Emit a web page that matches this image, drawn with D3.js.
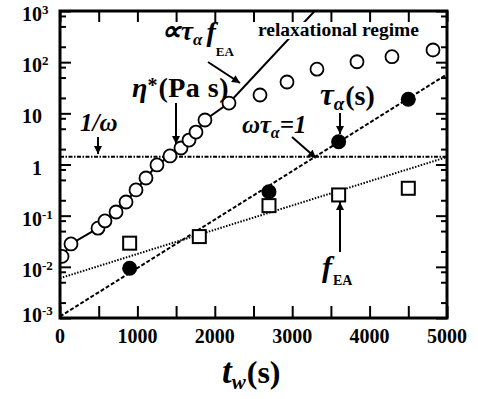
<!DOCTYPE html>
<html>
<head>
<meta charset="utf-8">
<script src="https://cdn.jsdelivr.net/npm/d3@7"></script>
<style>
  body { margin: 0; background: #fff; }
  svg { display: block; }
  text { font-family: "Liberation Serif", "Times New Roman", serif; fill: #000; font-weight: bold; }
</style>
</head>
<body>
<svg id="chart" width="478" height="399"></svg>
<script>
// eta* (Pa s), open circles
let etaT = [26, 142, 491, 581, 724, 853, 982, 1111, 1253, 1421, 1563, 1667, 1757, 1873, 2183, 2584, 2933, 3320, 3837, 4289, 4819];
let etaV = [0.016, 0.028, 0.057, 0.079, 0.118, 0.185, 0.318, 0.545, 0.98, 1.47, 2.1, 3.0, 4.3, 7.4, 15.9, 22.8, 41, 73, 102, 128, 173];
// how many eta points the solid line joins, then its straight extension
let etaLineCount = 15;
let etaExtension = [[2183, 15.9], [3290, 1000]];

// tau_alpha (s), filled circles
let tauT = [900, 2700, 3600, 4500];
let tauV = [0.0094, 0.294, 2.79, 18.8];
let tauFit = [[0, 0.00107], [5000, 58]];

// f_EA, open squares
let feaT = [900, 1800, 2700, 3600, 4500];
let feaV = [0.029, 0.039, 0.157, 0.254, 0.343];
let feaFit = [[0, 0.006], [5000, 1.4]];

// 1/omega
let invOmega = 1.42;

let xTicks = [0, 500, 1000, 1500, 2000, 2500, 3000, 3500, 4000, 4500, 5000];
let xLabels = [0, 1000, 2000, 3000, 4000, 5000];
let yExponents = [-3, -2, -1, 0, 1, 2, 3];
let yMinorMult = [2, 5, 8];

let svg = d3.select('#chart');
let mL = 60, mR = 447, mT = 11, mB = 318;

let x = d3.scaleLinear().domain([0, 5000]).range([mL, mR]);
let y = d3.scaleLog().domain([1e-3, 1e3]).range([mB, mT]);

let defs = svg.append('defs');
defs.append('clipPath').attr('id', 'plotClip')
  .append('rect').attr('x', mL).attr('y', mT)
  .attr('width', mR - mL).attr('height', mB - mT);

defs.append('marker')
  .attr('id', 'head')
  .attr('markerUnits', 'userSpaceOnUse')
  .attr('viewBox', '0 0 10 10')
  .attr('refX', 10).attr('refY', 5)
  .attr('markerWidth', 9).attr('markerHeight', 8)
  .attr('orient', 'auto')
  .append('path').attr('d', 'M0,0 L10,5 L0,10 Z').attr('fill', '#000');

// ---- axes (ticks point inward)
let yTicks = [];
yExponents.forEach(e => {
  yTicks.push(Math.pow(10, e));
  if (e < 3) yMinorMult.forEach(m => yTicks.push(m * Math.pow(10, e)));
});
let isMajor = d => Math.abs(Math.log10(d) - Math.round(Math.log10(d))) < 1e-6;

svg.append('g').attr('transform', `translate(0,${mB})`)
  .call(d3.axisBottom(x).tickValues(xTicks).tickSize(-12).tickFormat(''))
  .call(g => g.select('.domain').remove());
svg.append('g').attr('transform', `translate(0,${mT})`)
  .call(d3.axisTop(x).tickValues(xTicks).tickSize(-11).tickFormat(''))
  .call(g => g.select('.domain').remove());
svg.append('g').attr('transform', `translate(${mL},0)`)
  .call(d3.axisLeft(y).tickValues(yTicks).tickFormat(''))
  .call(g => g.select('.domain').remove())
  .call(g => g.selectAll('.tick line').attr('x2', d => isMajor(d) ? 11 : 6));
svg.append('g').attr('transform', `translate(${mR},0)`)
  .call(d3.axisRight(y).tickValues(yTicks).tickFormat(''))
  .call(g => g.select('.domain').remove())
  .call(g => g.selectAll('.tick line').attr('x2', d => isMajor(d) ? -11 : -6));
svg.selectAll('.tick line').attr('stroke', '#000').attr('stroke-width', 2);

// tick labels
svg.selectAll('.xlab')
  .data(xLabels)
  .join('text')
  .classed('xlab', true)
  .attr('x', d => x(d))
  .attr('y', 343)
  .attr('text-anchor', 'middle')
  .attr('font-size', 20)
  .text(d => d);

svg.selectAll('.ylab')
  .data(yExponents)
  .join('text')
  .classed('ylab', true)
  .attr('x', d => d == 0 ? 32 : 22)
  .attr('y', d => Math.min(y(Math.pow(10, d)) + 10, 322))
  .attr('font-size', 20)
  .each(function(d){
    let t = d3.select(this);
    if (d == 0) { t.text('1'); return; }
    t.append('tspan').text('10');
    if (d != 1) t.append('tspan').attr('font-size', 13).attr('dy', -7).text(d);
  });

// axis title
let title = svg.append('text').attr('x', 222).attr('y', 383);
title.append('tspan').attr('font-size', 35).attr('font-style', 'italic').text('t');
title.append('tspan').attr('font-size', 21).attr('font-style', 'italic').attr('dy', 6).text('w');
title.append('tspan').attr('font-size', 32).attr('dy', -6).attr('dx', 1).text('(s)');

// ---- lines
let plot = svg.append('g').attr('clip-path', 'url(#plotClip)');
let logLine = d3.line().x(d => x(d[0])).y(d => y(d[1]));

plot.append('line')
  .attr('x1', mL).attr('x2', mR)
  .attr('y1', y(invOmega)).attr('y2', y(invOmega))
  .attr('stroke', '#000').attr('stroke-width', 2)
  .attr('stroke-dasharray', '4,1.5,1.5,1.5');

plot.append('path').datum(feaFit)
  .attr('d', logLine).attr('fill', 'none')
  .attr('stroke', '#000').attr('stroke-width', 2).attr('stroke-dasharray', '1.5,1.5');

plot.append('path').datum(tauFit)
  .attr('d', logLine).attr('fill', 'none')
  .attr('stroke', '#000').attr('stroke-width', 2).attr('stroke-dasharray', '4,2');

let etaPts = etaT.map((t, i) => [t, etaV[i]]);
plot.append('path').datum(etaPts.slice(0, etaLineCount).concat(etaExtension.slice(1)))
  .attr('d', logLine).attr('fill', 'none')
  .attr('stroke', '#000').attr('stroke-width', 2);

// ---- markers
plot.selectAll('.eta')
  .data(etaPts)
  .join('circle')
  .classed('eta', true)
  .attr('cx', d => x(d[0])).attr('cy', d => y(d[1])).attr('r', 6.5)
  .attr('fill', '#fff').attr('stroke', '#000').attr('stroke-width', 1.8);

plot.selectAll('.fea')
  .data(feaT.map((t, i) => [t, feaV[i]]))
  .join('rect')
  .classed('fea', true)
  .attr('x', d => x(d[0]) - 6.5).attr('y', d => y(d[1]) - 6.5)
  .attr('width', 13).attr('height', 13)
  .attr('fill', '#fff').attr('stroke', '#000').attr('stroke-width', 2);

plot.selectAll('.tau')
  .data(tauT.map((t, i) => [t, tauV[i]]))
  .join('circle')
  .classed('tau', true)
  .attr('cx', d => x(d[0])).attr('cy', d => y(d[1])).attr('r', 7.5)
  .attr('fill', '#000');

// label that sits over the eta line on a white ground
let relax = svg.append('text').attr('x', 258).attr('y', 36)
  .attr('font-size', 18)
  .attr('textLength', 161).attr('lengthAdjust', 'spacingAndGlyphs')
  .text('relaxational regime');
let rb = relax.node().getBBox();
svg.insert('rect', () => relax.node())
  .attr('x', rb.x - 1).attr('y', rb.y + 2).attr('width', rb.width + 2).attr('height', rb.height - 3)
  .attr('fill', '#fff');

svg.append('rect')
  .attr('x', mL).attr('y', mT).attr('width', mR - mL).attr('height', mB - mT)
  .attr('fill', 'none').attr('stroke', '#000').attr('stroke-width', 3);

// ---- annotations
let arrows = [
  [98, 137, 98, 154],
  [176, 103, 176, 144],
  [208, 62, 240, 83],
  [340, 113, 340, 134],
  [292, 137, 316, 158],
  [340, 252, 340, 202]
];
svg.selectAll('.arrow')
  .data(arrows)
  .join('line')
  .classed('arrow', true)
  .attr('x1', d => d[0]).attr('y1', d => d[1])
  .attr('x2', d => d[2]).attr('y2', d => d[3])
  .attr('stroke', '#000').attr('stroke-width', 2)
  .attr('marker-end', 'url(#head)');

// parts: [text, size, italic, dx, dy]
function label(xp, yp, parts){
  let t = svg.append('text').attr('x', xp).attr('y', yp);
  parts.forEach(p => {
    t.append('tspan')
      .attr('font-size', p[1])
      .attr('font-style', p[2] ? 'italic' : 'normal')
      .attr('dx', p[3] || 0).attr('dy', p[4] || 0)
      .text(p[0]);
  });
  return t;
}

label(80, 131, [['1/\u03c9', 25, true]]);

label(132, 97, [['\u03b7', 28, true], ['*', 20, false, 0, -5], ['(Pa s)', 28, false, 1, 5]])
  .select('tspan:last-child').attr('letter-spacing', 0.5);

label(161, 40, [['\u221d', 28, true], ['\u03c4', 27, true], ['\u03b1', 17, true, 0, 5],
  ['f', 28, true, 4, -4], ['EA', 13, false, 0, 15]]);

label(320, 105, [['\u03c4', 31, true], ['\u03b1', 19, true, 0, 5], ['(s)', 28, false, 1, -5]]);

label(242, 133, [['\u03c9\u03c4', 25, true], ['\u03b1', 16, true, 0, 5], ['=1', 25, true, 0, -5]]);

label(322, 277, [['f', 30, true], ['EA', 14, false, 1, 8]]);
</script>
</body>
</html>
